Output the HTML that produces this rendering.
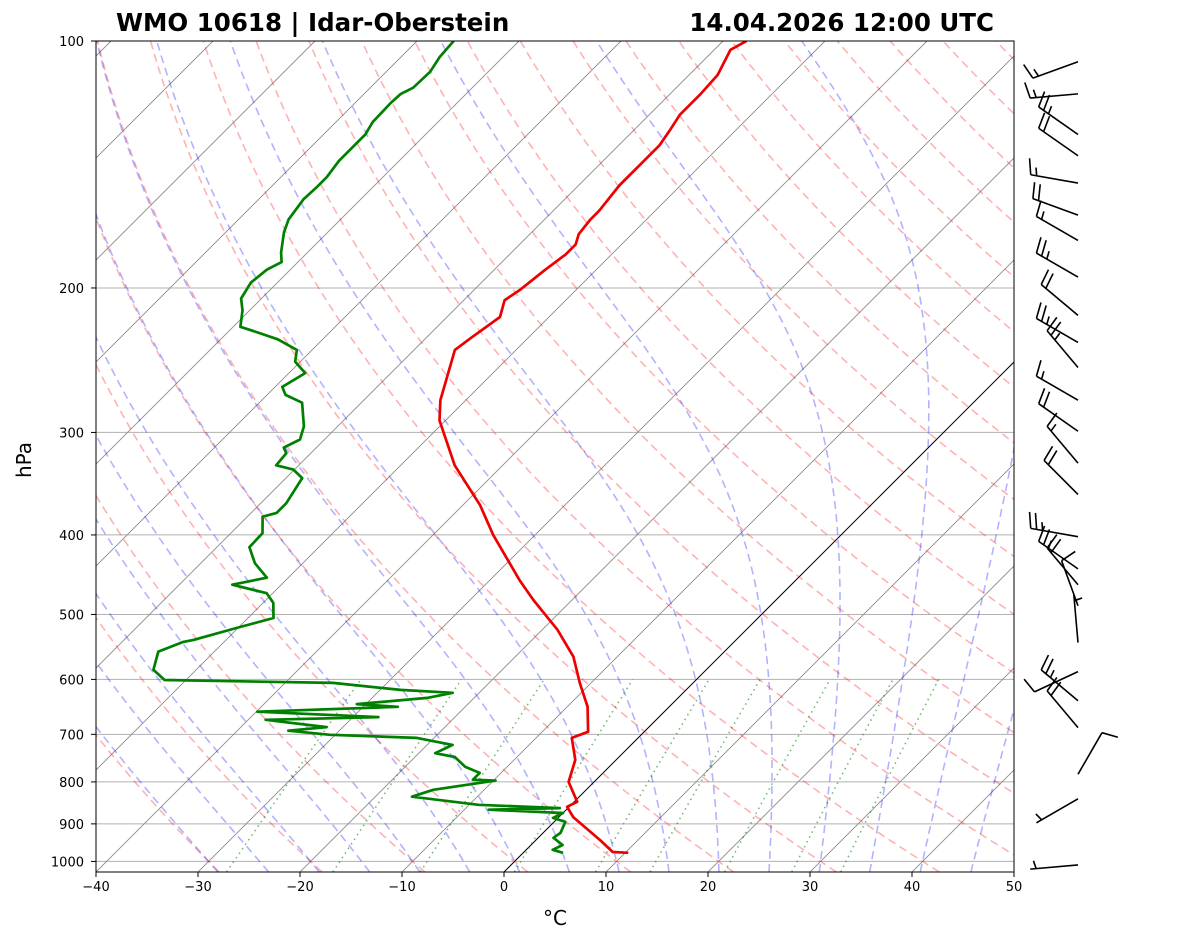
<!DOCTYPE html>
<html><head><meta charset="utf-8"><style>
html,body{margin:0;padding:0;background:#fff;}
svg{display:block;font-family:"DejaVu Sans","Liberation Sans",sans-serif;}
</style></head><body>
<svg id="chart" width="1181" height="941" viewBox="0 0 1181 941" xmlns="http://www.w3.org/2000/svg">
<defs><clipPath id="plotclip"><rect x="96" y="41" width="918" height="831"/></clipPath></defs>
<rect x="0" y="0" width="1181" height="941" fill="#fff"/>
<text x="116" y="31" font-size="24.5" font-weight="bold">WMO 10618 | Idar-Oberstein</text>
<text x="994" y="31" font-size="24.5" font-weight="bold" text-anchor="end">14.04.2026 12:00 UTC</text>
<g id="bg" clip-path="url(#plotclip)"></g>
<g id="series" clip-path="url(#plotclip)"></g>
<rect x="96" y="41" width="918" height="831" fill="none" stroke="#000" stroke-width="1"/>
<g id="axes"></g>
<g id="barbs"></g>
<text x="555" y="925" font-size="20" text-anchor="middle">°C</text>
<text x="31" y="460" font-size="20" text-anchor="middle" transform="rotate(-90 31 460)">hPa</text>
</svg>
<script>
const tempP=[100,102.5,110,116,123,128,134,138,142,150,161,165,172,177,182,190,201,207,217,230,238,274,290,329,368,400,454,480,522,563,606,648,695,707,752,800,846,858,883,942,974,976];
const tempT=[-57.7,-58.4,-57.2,-57,-57,-56.5,-56,-56,-56,-56,-55.5,-55.5,-55.2,-54.5,-54.5,-55,-55.5,-56,-54.8,-55.6,-56,-52.5,-50.6,-44.7,-38.3,-34.1,-27.1,-23.8,-18.5,-14.3,-11.1,-8,-5.5,-6.5,-4,-2.5,0.3,-0.2,1.4,6.3,8.7,10.3];
const dewP=[100,104.6,109,114,116,119,125.5,130,140,146.5,151,156,165,171,181,186,190,197,206,213,223,227,231,238,246,254,264,270,276,295,306,313,318,329,333,341,366,376,380,398,414,433,451,460,471,484,505,518,537,540,555,584,601,606,618,623,632,643,648,657,667,672,686,693,701,707,721,738,746,767,780,795,797,818,834,853,861,865,873,885,895,923,936,955,968,976];
const dewT=[-86.4,-86.2,-85.7,-85.8,-86.4,-86.5,-86.4,-85.9,-85.9,-85.5,-85.5,-85.6,-85.1,-84.3,-82.6,-81.6,-82.3,-82.6,-82,-80.7,-79.3,-76.8,-74.4,-71.5,-70.5,-68.4,-69.3,-68.2,-65.8,-63.3,-62.4,-63.2,-62.4,-62.2,-60.1,-58.4,-57.5,-57.5,-58.5,-56.9,-56.8,-54.7,-52.1,-54.8,-50.6,-49,-47.5,-49.9,-53.2,-54,-55.5,-54.2,-52.1,-35.3,-28,-22.6,-24.6,-30.9,-26.6,-39.9,-27.5,-38.3,-31.6,-35,-30.5,-21.7,-17.5,-18.4,-16.1,-14.1,-12.1,-12.1,-9.8,-15,-16.4,-9.1,-0.8,-7.6,0,-0.5,1.1,1.7,1.5,3.1,2.6,3.9];
const windP=[106,116,130,138,149,163,175,194,216,233,250,274,299,327,357,402,440,460,488,541,587,637,687,783,839,1010];
const windDir=[250,265,305,305,280,290,300,300,310,300,320,300,305,320,315,280,305,320,340,355,245,310,320,30,240,265];
const windSpd=[15,15,25,20,15,20,15,25,20,25,25,15,20,15,20,25,25,20,10,5,10,25,20,10,5,5];
const xTicks=[-40,-30,-20,-10,0,10,20,30,40,50];
const pTicks=[100,200,300,400,500,600,700,800,900,1000];

const NS='http://www.w3.org/2000/svg';
const P_BOT=1030,P_TOP=100;
function yOf(p){return 41+356.3*Math.log(p/100);}
function xOf(T,p){return 96+(T+40)*10.2+(872-yOf(p));}
function mk(tag,attrs,parent){const e=document.createElementNS(NS,tag);for(const k in attrs)e.setAttribute(k,attrs[k]);parent.appendChild(e);return e;}
function pathFrom(ps,ts){let d='';for(let i=0;i<ps.length;i++){d+=(i?'L':'M')+xOf(ts[i],ps[i]).toFixed(1)+','+yOf(ps[i]).toFixed(1);}return d;}
const bg=document.getElementById('bg'),ser=document.getElementById('series'),ax=document.getElementById('axes'),bb=document.getElementById('barbs');

pTicks.forEach(p=>{const l=mk('line',{x1:96,x2:1014,y1:yOf(p),y2:yOf(p),stroke:'#b0b0b0','stroke-width':1},bg);

});
for(let T=-130;T<=50;T+=10){const l=mk('line',{x1:xOf(T,P_BOT),y1:yOf(P_BOT),x2:xOf(T,P_TOP),y2:yOf(P_TOP),stroke:T===0?'#000':'#8c8c8c','stroke-width':T===0?1:0.9},bg);

}
const levels=[];for(let p=P_BOT;p>=P_TOP;p-=5)levels.push(p);
for(let tc=-30;tc<=200;tc+=10){const th=tc+273.15;const ts=levels.map(p=>th*Math.pow(p/1000,0.2857)-273.15);
const e=mk('path',{d:pathFrom(levels,ts),fill:'none',stroke:'rgb(255,0,0)','stroke-opacity':0.3,'stroke-width':1.6,'stroke-dasharray':'8,5'},bg);

}
function es(tc){return 6.112*Math.exp(17.67*tc/(tc+243.5));}
function dTdp(T,p){const tc=T-273.15;const e=es(tc);const rs=0.622*e/(p-e);
return (287.04*T+2.501e6*rs)/(1005.7+2.501e6*2.501e6*rs*0.622/(287.04*T*T))/p;}
function integ(T0,p0,p1,step){const ps=[p0],ts=[T0-273.15];let T=T0,p=p0;const s=p1<p0?-step:step;
while((s<0&&p>p1)||(s>0&&p<p1)){const k1=dTdp(T,p),k2=dTdp(T+k1*s/2,p+s/2),k3=dTdp(T+k2*s/2,p+s/2),k4=dTdp(T+k3*s,p+s);T+=s*(k1+2*k2+2*k3+k4)/6;p+=s;ps.push(p);ts.push(T-273.15);}return [ps,ts];}
for(let tc=-30;tc<=45;tc+=5){const up=integ(tc+273.15,1000,100,5),dn=integ(tc+273.15,1000,1030,5);
const ps=dn[0].slice().reverse().concat(up[0].slice(1)),ts=dn[1].slice().reverse().concat(up[1].slice(1));
const e=mk('path',{d:pathFrom(ps,ts),fill:'none',stroke:'rgb(0,0,255)','stroke-opacity':0.3,'stroke-width':1.6,'stroke-dasharray':'8,5'},bg);

}
const mixW=[0.0004,0.001,0.002,0.004,0.007,0.01,0.016,0.024,0.032];
mixW.forEach(w=>{const ps=[],ts=[];for(let p=P_BOT;p>=600;p-=10){const e=w*p/(0.622+w);const a=Math.log(e/6.112);ps.push(p);ts.push(243.5*a/(17.67-a));}
const el=mk('path',{d:pathFrom(ps,ts),fill:'none',stroke:'green','stroke-opacity':0.55,'stroke-width':1.6,'stroke-dasharray':'1.5,4'},bg);

});
const tl=mk('path',{d:pathFrom(tempP,tempT),fill:'none',stroke:'#e00','stroke-width':2.7,'stroke-linejoin':'round'},ser);


const dl=mk('path',{d:pathFrom(dewP,dewT),fill:'none',stroke:'#008000','stroke-width':2.7,'stroke-linejoin':'round'},ser);


xTicks.forEach(t=>{const x=96+(t+40)*10.2;mk('line',{x1:x,x2:x,y1:872,y2:877,stroke:'#000'},ax);
const tx=mk('text',{x:x,y:891,'font-size':13,'text-anchor':'middle'},ax);tx.textContent=(t<0?'\u2212'+(-t):t);

});
pTicks.forEach(p=>{const y=yOf(p);mk('line',{x1:91,x2:96,y1:y,y2:y,stroke:'#000'},ax);
const tx=mk('text',{x:84,y:y+5,'font-size':13,'text-anchor':'end'},ax);tx.textContent=p;

});
windP.forEach((p,i)=>{const bx=1078,by=yOf(p);const th=windDir[i]*Math.PI/180;const ux=Math.sin(th),uy=-Math.cos(th);
const L=48;const tx=bx+ux*L,ty=by+uy*L;const px=-uy,py=ux;const g=mk('g',{stroke:'#000','stroke-width':1.6,fill:'#000'},bb);


mk('line',{x1:bx,y1:by,x2:tx,y2:ty},g);
let s=windSpd[i],pos=0;const sp=6;
while(s>=50){const ax1=tx-ux*pos,ay1=ty-uy*pos,ax2=tx-ux*(pos+7),ay2=ty-uy*(pos+7);mk('polygon',{points:`${ax1},${ay1} ${ax1+px*16},${ay1+py*16} ${ax2},${ay2}`},g);pos+=9;s-=50;}
while(s>=10){const cx=tx-ux*pos,cy=ty-uy*pos;mk('line',{x1:cx,y1:cy,x2:cx+px*16+ux*4,y2:cy+py*16+uy*4},g);pos+=sp;s-=10;}
if(s>=5){if(pos===0)pos=sp;const cx=tx-ux*pos,cy=ty-uy*pos;mk('line',{x1:cx,y1:cy,x2:cx+px*8+ux*2,y2:cy+py*8+uy*2},g);}
});
</script>
</body></html>
